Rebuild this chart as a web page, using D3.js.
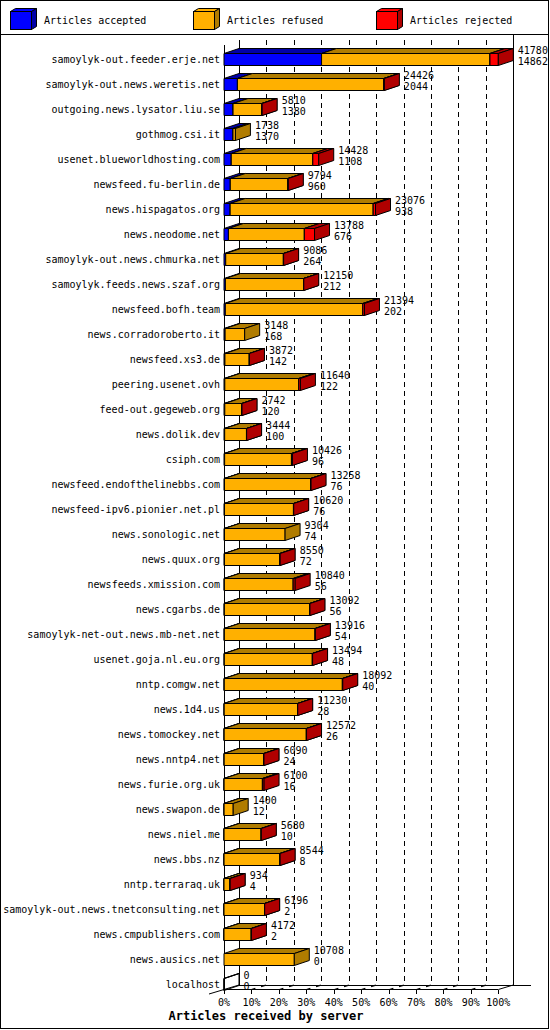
<!DOCTYPE html>
<html><head><meta charset="utf-8">
<script src="https://cdn.jsdelivr.net/npm/d3@7/dist/d3.min.js"></script>
<style>body{margin:0;background:#fff}svg{display:block}</style>
</head><body>
<script>
// ---- data ----
const servers = [
 "samoylyk-out.feeder.erje.net","samoylyk-out.news.weretis.net","outgoing.news.lysator.liu.se","gothmog.csi.it",
 "usenet.blueworldhosting.com","newsfeed.fu-berlin.de","news.hispagatos.org","news.neodome.net",
 "samoylyk-out.news.chmurka.net","samoylyk.feeds.news.szaf.org","newsfeed.bofh.team","news.corradoroberto.it",
 "newsfeed.xs3.de","peering.usenet.ovh","feed-out.gegeweb.org","news.dolik.dev","csiph.com",
 "newsfeed.endofthelinebbs.com","newsfeed-ipv6.pionier.net.pl","news.sonologic.net","news.quux.org",
 "newsfeeds.xmission.com","news.cgarbs.de","samoylyk-net-out.news.mb-net.net","usenet.goja.nl.eu.org",
 "nntp.comgw.net","news.1d4.us","news.tomockey.net","news.nntp4.net","news.furie.org.uk","news.swapon.de",
 "news.niel.me","news.bbs.nz","nntp.terraraq.uk","samoylyk-out.news.tnetconsulting.net",
 "news.cmpublishers.com","news.ausics.net","localhost"];
const offered  = [41780,24426,5810,1738,14428,9794,23076,13788,9086,12150,21394,3148,3872,11640,2742,3444,10426,
 13258,10620,9304,8550,10840,13092,13916,13494,18092,11230,12572,6090,6100,1400,5680,8544,934,6196,4172,10708,0];
const accepted = [14862,2044,1380,1370,1108,960,938,676,264,212,202,168,142,122,120,100,96,
 76,76,74,72,56,56,54,48,40,28,26,24,16,12,10,8,4,2,2,0,0];
const refused  = [25648,22282,4380,368,12420,8774,21788,11562,8782,11898,20942,2980,3710,11268,2602,3324,10180,
 13122,10504,9230,8428,10484,12996,13822,13406,17992,11172,12516,6046,5834,1388,5650,8516,920,6174,4150,10708,0];
const rejected = [1270,100,50,0,900,60,350,1550,40,40,250,0,20,250,20,20,150,
 60,40,0,50,300,40,40,40,60,30,30,20,250,0,20,20,10,20,20,0,0];
const seriesNames = ["Articles accepted","Articles refused","Articles rejected"];
const tickLabels = ["0%","10%","20%","30%","40%","50%","60%","70%","80%","90%","100%"];
const axisTitle = "Articles received by server";

// ---- drawing ----
const W = 550, H = 1030, DX = 15, DY = 5;
const colors = [
  {front:"#0000ff", dark:"#0000a8"},
  {front:"#ffb000", dark:"#b07c00"},
  {front:"#ff0000", dark:"#b00000"}
];
const FONT = "'DejaVu Sans Mono', 'Liberation Mono', monospace";

const svg = d3.select("body").append("svg").attr("width", W).attr("height", H)
  .style("font-family", FONT);

const x = d3.scaleLinear().domain([0, d3.max(offered)]).range([224, 498.3]);
const pct = d3.scaleLinear().domain([0, 100]).range([224, 498.3]);
const y = d3.scaleBand().domain(servers).range([46.5, 996.5]).paddingInner(0.52).paddingOuter(0.26);
const bh = y.bandwidth();

// frame
svg.append("rect").attr("x",0.5).attr("y",0.5).attr("width",548).attr("height",1028)
  .attr("fill","#fff").attr("stroke","#000");
svg.append("line").attr("x1",0).attr("x2",549).attr("y1",34.5).attr("y2",34.5).attr("stroke","#000");

// legend
const legX = [10, 193, 376];
seriesNames.forEach((name, i) => {
  const g = svg.append("g").attr("transform", `translate(${legX[i]},0)`);
  const x0 = 0.5, x1 = 21.5, y0 = 11.5, y1 = 29.5, dx = 5, dy = 3;
  g.append("path").attr("d", `M${x0},${y0}L${x0+dx},${y0-dy}H${x1+dx}L${x1},${y0}Z`)
    .attr("fill", colors[i].front).attr("stroke","#000");
  g.append("path").attr("d", `M${x1},${y0}L${x1+dx},${y0-dy}V${y1-dy}L${x1},${y1}Z`)
    .attr("fill", colors[i].dark).attr("stroke","#000");
  g.append("rect").attr("x",x0).attr("y",y0).attr("width",x1-x0).attr("height",y1-y0)
    .attr("fill", colors[i].front).attr("stroke","#000");
  g.append("text").attr("x",34).attr("y",24).attr("font-size",10).text(name);
});

// back walls & grid
const grid = svg.append("g").attr("shape-rendering","crispEdges");
grid.append("line").attr("x1",pct(0)+DX).attr("x2",pct(0)+DX).attr("y1",40).attr("y2",985)
  .attr("stroke","#000");
grid.append("line").attr("x1",pct(100)+DX).attr("x2",pct(100)+DX).attr("y1",34).attr("y2",985)
  .attr("stroke","#000");
d3.range(10, 100, 10).forEach(v => {
  const gx = Math.round(pct(v)+DX) + 0.5;
  grid.append("line").attr("x1",gx).attr("x2",gx).attr("y1",40).attr("y2",985)
    .attr("stroke","#000").attr("stroke-dasharray","5,4");
});
// front left axis
grid.append("line").attr("x1",224.5).attr("x2",224.5).attr("y1",45).attr("y2",990).attr("stroke","#000");

// floor
const floor = svg.append("g");
floor.append("line").attr("x1",224).attr("x2",pct(100)).attr("y1",989.5).attr("y2",989.5).attr("stroke","#000").attr("shape-rendering","crispEdges");
floor.append("line").attr("x1",239).attr("x2",531).attr("y1",985.5).attr("y2",985.5).attr("stroke","#000").attr("shape-rendering","crispEdges");
floor.append("line").attr("x1",209).attr("y1",994).attr("x2",239).attr("y2",985).attr("stroke","#000");
floor.append("line").attr("x1",pct(100)).attr("y1",989.5).attr("x2",pct(100)+DX).attr("y2",985).attr("stroke","#000");
tickLabels.forEach((t, i) => {
  const tx = Math.round(pct(i*10)) + 0.5;
  floor.append("line").attr("x1",tx).attr("x2",tx).attr("y1",989.5).attr("y2",994)
    .attr("stroke","#000").attr("shape-rendering","crispEdges");
  if (i > 0 && i < 10) {
    floor.append("line").attr("x1",tx).attr("y1",989.5).attr("x2",tx+DX).attr("y2",985)
      .attr("stroke","#000").attr("stroke-width",1.3).attr("stroke-dasharray","4,6,5");
  }
  floor.append("text").attr("x",pct(i*10)).attr("y",1006).attr("text-anchor","middle")
    .attr("font-size",10).text(t);
});
svg.append("text").attr("x",266).attr("y",1020).attr("text-anchor","middle")
  .attr("font-size",12).attr("font-weight","bold").text(axisTitle);

// bars
function box(g, x0, x1, y0, h, c, hollow) {
  const f = hollow ? null : c.front, d = hollow ? "none" : c.dark;
  g.append("path").attr("d", `M${x0},${y0}H${x1}V${y0+h}H${x0}Z`)
    .attr("fill", hollow ? "none" : f).attr("stroke","#000");
  g.append("path").attr("d", `M${x0},${y0}L${x0+DX},${y0-DY}H${x1+DX}L${x1},${y0}Z`)
    .attr("fill", d).attr("stroke","#000");
  g.append("path").attr("d", `M${x1},${y0}L${x1+DX},${y0-DY}V${y0+h-DY}L${x1},${y0+h}Z`)
    .attr("fill", d).attr("stroke","#000");
}
const bars = svg.append("g");
servers.forEach((s, i) => {
  const g = bars.append("g");
  const y0 = y(s) + 0.5;
  const vals = [accepted[i], refused[i], rejected[i]];
  let acc = 0;
  let drawn = false;
  vals.forEach((v, k) => {
    if (v > 0) {
      box(g, x(acc), x(acc+v), y0, bh, colors[k], false);
      drawn = true;
    }
    acc += v;
  });
  if (!drawn) box(g, x(0), x(0), y0, bh, colors[1], true);
  // left label
  svg.append("text").attr("x",220).attr("y",y(s)+10).attr("text-anchor","end")
    .attr("font-size",10).text(s);
  const lx = x(offered[i]) + 19.5;
  svg.append("text").attr("x",lx).attr("y",y(s)+1).attr("font-size",10).text(offered[i]);
  svg.append("text").attr("x",lx).attr("y",y(s)+12).attr("font-size",10).text(accepted[i]);
});
</script>
</body></html>
